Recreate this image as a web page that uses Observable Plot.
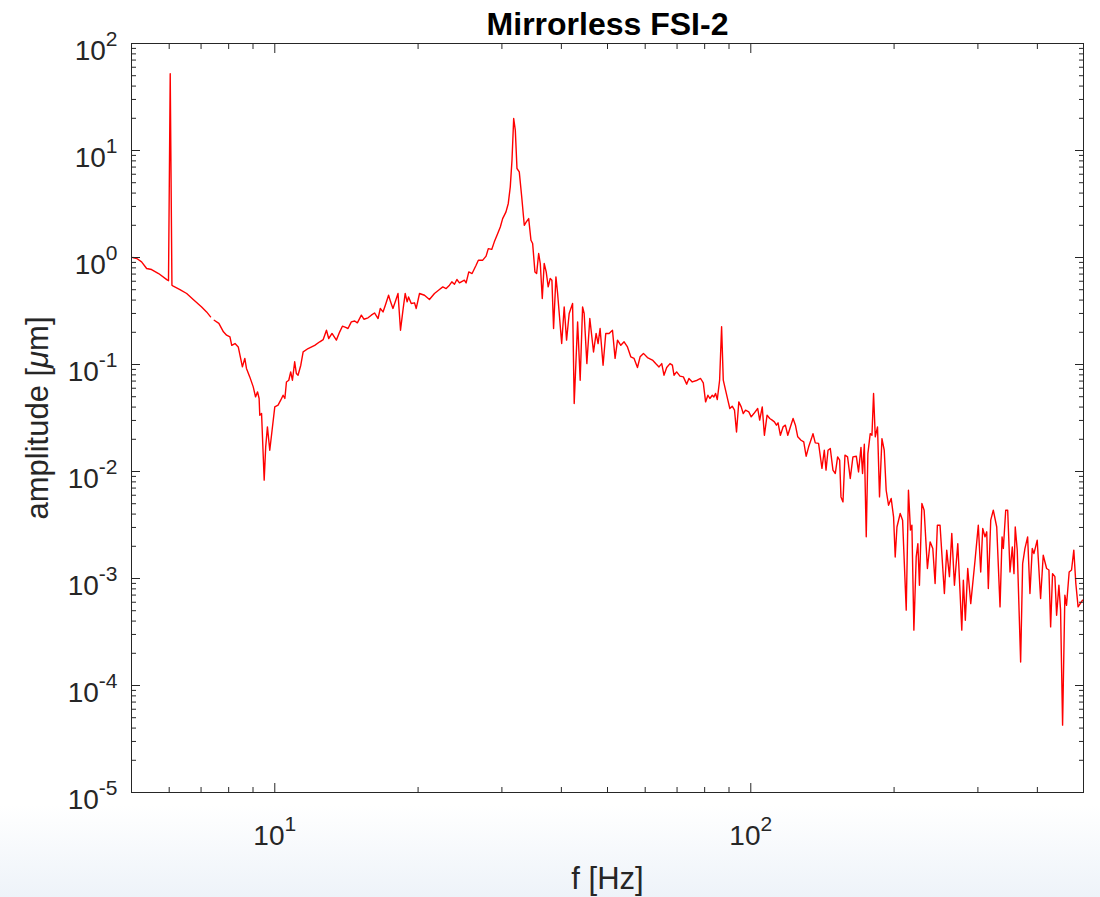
<!DOCTYPE html>
<html><head><meta charset="utf-8">
<script src="https://cdn.jsdelivr.net/npm/d3@7"></script>
<script src="https://cdn.jsdelivr.net/npm/@observablehq/plot@0.6"></script>
<style>
html,body{margin:0;padding:0;}
body{width:1100px;height:897px;overflow:hidden;background:linear-gradient(to bottom,#ffffff 0px,#ffffff 805px,#eef3f9 897px);}
#chart svg{display:block;}
</style></head><body><div id="chart"></div>
<script>
const titleText = "Mirrorless FSI-2";
const xLabel = "f [Hz]";
const yLabel = "amplitude [μm]";

// frequency (Hz)
const freq = [
5.03,5.13,5.25,5.38,5.51,5.70,5.93,5.98,6.03,6.08,6.12,6.32,6.53,6.74,7.02,7.19,7.33,7.40,
7.46,7.63,7.80,7.92,8.05,8.12,8.25,8.38,8.55,8.65,8.72,8.86,9.01,9.11,9.20,9.27,9.30,9.38,
9.50,9.57,9.65,9.76,9.87,10.0,10.16,10.29,10.41,10.50,10.58,10.70,10.80,10.89,11.01,11.10,
11.19,11.34,11.47,11.75,12.13,12.43,12.64,12.84,12.98,13.19,13.47,13.69,13.87,14.09,14.25,
14.48,14.72,14.91,15.20,15.39,15.70,15.95,16.20,16.48,16.66,16.88,17.07,17.34,17.51,17.71,
17.91,18.15,18.37,18.59,18.79,18.97,19.10,19.35,19.66,19.82,20.14,20.63,21.13,21.65,22.18,
22.54,22.91,23.28,23.55,23.85,24.13,24.43,25.02,25.23,25.56,25.97,26.48,26.77,27.35,27.79,
28.09,28.56,28.92,29.40,29.77,30.11,30.60,30.94,31.24,31.50,31.76,32.01,32.27,32.63,33.02,
33.43,33.76,34.15,34.53,34.81,35.20,35.49,35.84,36.12,36.47,36.81,37.17,37.53,37.90,38.21,
38.52,38.96,39.28,40.06,40.55,41.02,41.54,42.23,42.56,43.27,43.81,44.32,44.66,45.25,45.90,
46.73,47.32,47.77,48.24,48.94,49.58,50.38,51.22,51.87,52.48,53.32,54.18,55.07,55.96,56.86,
57.80,58.54,59.50,60.66,62.14,63.12,64.14,65.00,65.71,66.58,67.65,68.43,68.97,69.86,71.00,
72.17,73.33,74.13,75.35,77.19,78.45,79.47,80.36,81.27,82.04,83.01,83.65,84.33,85.04,86.00,
86.83,87.54,88.51,89.50,90.36,91.41,92.43,93.33,94.37,95.48,96.40,97.48,99.04,100.2,101.5,
103.4,104.4,105.7,106.8,108.2,109.6,110.9,112.1,113.2,114.1,115.4,116.9,118.2,119.6,121.1,
122.7,124.1,125.5,127.5,129.2,130.7,132.3,134.1,135.1,136.6,138.8,141.1,142.7,143.9,145.3,
146.9,148.8,150.5,152.2,153.7,154.7,156.2,157.7,159.7,161.8,163.9,166.6,168.4,170.4,171.7,
173.2,174.8,176.2,178.2,179.7,181.1,182.6,184.6,186.4,188.6,190.7,192.5,194.7,197.2,199.5,
201.1,202.8,206.0,208.4,212.1,214.4,216.5,218.0,220.1,222.6,224.4,226.1,228.8,231.3,235.0,
238.1,241.2,243.9,246.6,249.8,255.1,258.0,261.4,264.4,267.8,272.2,277.5,279.6,282.3,285.6,
289.8,295.9,300.6,304.1,307.1,310.5,313.1,315.5,319.2,323.2,328.6,333.9,337.2,339.3,343.2,
346.5,350.4,354.3,357.2,359.4,362.9,368.9,372.5,376.7,381.6,385.9,390.2,393.4,399.7,406.3,
411.5,418.3,423.0,426.5,430.5,435.4,439.0,443.9,447.5,451.9,456.9,460.6,466.5,471.9,477.1,
481.8,487.1,497.6
];

// amplitude (µm); null = gap in the trace
const amp = [
1.00,0.979,0.910,0.789,0.772,0.708,0.622,0.607,52.2,0.551,0.539,0.502,0.461,0.405,0.345,0.310,0.279,null,
0.259,0.242,0.202,0.188,0.181,0.151,0.157,0.146,0.0950,0.114,0.0918,0.0766,0.0618,0.0498,0.0555,0.0481,0.0336,0.0348,
0.00830,0.0170,0.0261,0.0158,0.0243,0.0402,0.0417,0.0464,0.0516,0.0481,0.0687,0.0713,0.0853,0.0713,0.106,0.0824,
0.0794,0.0985,0.131,0.141,0.151,0.163,0.171,0.209,0.175,0.195,0.169,0.202,0.228,0.222,0.217,
0.250,0.255,0.245,0.289,0.265,0.273,0.289,0.303,0.269,0.334,0.310,0.358,0.444,0.385,0.334,
0.385,0.461,0.209,0.322,0.461,0.385,0.428,0.372,0.377,0.334,0.461,0.444,0.405,0.461,0.502,
0.531,0.513,0.551,0.592,0.563,0.623,0.579,0.614,0.579,0.733,0.708,0.847,0.944,0.944,1.03,
1.21,1.19,1.40,1.68,1.93,2.31,2.67,3.20,4.57,8.11,19.9,15.5,6.79,6.31,3.68,
2.00,2.15,2.31,1.45,1.35,0.733,0.708,1.09,0.879,0.414,0.879,0.733,0.531,0.637,0.614,
0.217,0.659,0.461,0.157,0.345,0.169,0.300,0.372,0.0432,0.250,0.0713,0.345,0.300,0.102,0.269,
0.131,0.195,0.157,0.217,0.0985,0.195,0.195,0.209,0.114,0.169,0.151,0.163,0.146,0.118,0.114,
0.0938,0.118,0.127,0.116,0.110,0.102,0.0950,0.102,0.0794,0.0938,0.102,0.0985,0.0794,0.0853,0.0778,
0.0766,0.0655,0.0740,0.0687,0.0713,0.0740,0.0673,0.0447,0.0516,0.0481,0.0516,0.0498,0.0536,0.0471,0.0713,
0.225,0.0713,0.0575,0.0464,0.0388,0.0408,0.0374,0.0234,0.0447,0.0402,0.0348,0.0374,0.0361,0.0324,0.0348,
0.0388,0.0302,0.0402,0.0218,0.0336,0.0313,0.0302,0.0291,0.0271,0.0285,0.0218,0.0261,0.0271,0.0218,0.0261,
0.0313,0.0271,0.0211,0.0196,0.0189,0.0139,0.0170,0.0203,0.0226,0.0185,0.0183,0.0107,0.0158,0.0103,0.0158,
0.0164,0.0103,0.00958,0.0137,0.0128,0.00579,0.00520,0.0142,0.0137,0.00860,0.0137,0.0139,0.00991,0.0168,0.00958,
0.0180,0.00245,0.0147,0.0226,0.0218,0.0536,0.0211,0.0261,0.00579,0.0203,0.0158,0.00668,0.00484,0.00560,0.00377,
0.00159,0.00303,0.00405,0.00351,0.000506,0.00668,0.00283,0.00315,0.000329,0.00159,0.00212,0.000866,0.00502,0.00435,0.00124,
0.00220,0.00191,0.000898,0.00315,0.00315,0.000724,0.00184,0.00104,0.00264,0.000866,0.00212,0.000329,0.000964,0.000407,0.00124,
0.000583,0.00148,0.00315,0.00115,0.00293,0.00245,0.00273,0.000807,0.00351,0.00435,0.00303,0.000543,0.00245,0.00191,0.00435,
0.00435,0.00115,0.00197,0.00111,0.00303,0.00184,0.000166,0.00138,0.00191,0.00245,0.000724,0.00191,0.00171,0.00228,0.000650,
0.00165,0.00124,0.00120,0.000353,0.00111,0.00104,0.000454,0.000866,0.000506,0.0000426,0.000698,0.000562,0.00115,0.00120,0.00184,
0.000898,0.000543,0.000627
];

const xMajorTicks = [10, 100];
const xMinorTicks = [6, 7, 8, 9, 20, 30, 40, 50, 60, 70, 80, 90, 200, 300, 400];
const yMajorTicks = [1e-5, 1e-4, 1e-3, 1e-2, 1e-1, 1, 10, 100];
const yMinorTicks = [-5, -4, -3, -2, -1, 0, 1].flatMap(e => [2, 3, 4, 5, 6, 7, 8, 9].map(k => k * Math.pow(10, e)));

const data = freq.map((f, i) => ({f, a: amp[i]}));

const ink = "#262626";
const fontFamily = "'Liberation Sans', Arial, Helvetica, sans-serif";
const expFormat = d => "10^" + Math.round(Math.log10(d));
const blank = () => "";

const tickAxes = [];
for (const [anchor, ticks, size] of [["bottom", xMajorTicks, 9], ["top", xMajorTicks, 9], ["bottom", xMinorTicks, 5], ["top", xMinorTicks, 5]]) {
  tickAxes.push(Plot.axisX({anchor, ticks, tickSize: -size, tickFormat: blank, label: null, stroke: ink, strokeWidth: 1}));
}
for (const [anchor, ticks, size] of [["left", yMajorTicks, 9], ["right", yMajorTicks, 9], ["left", yMinorTicks, 5], ["right", yMinorTicks, 5]]) {
  tickAxes.push(Plot.axisY({anchor, ticks, tickSize: -size, tickFormat: blank, label: null, stroke: ink, strokeWidth: 1}));
}

const chart = Plot.plot({
  width: 1100,
  height: 897,
  marginLeft: 131,
  marginRight: 17,
  marginTop: 43,
  marginBottom: 105,
  style: {fontFamily, background: "transparent", color: ink, overflow: "visible"},
  x: {type: "log", domain: [5, 500]},
  y: {type: "log", domain: [1e-5, 100]},
  marks: [
    Plot.frame({fill: "white", stroke: null}),
    Plot.line(data, {x: "f", y: "a", stroke: "#ff0000", strokeWidth: 1.4, clip: true}),
    ...tickAxes,
    Plot.axisY({anchor: "left", ticks: yMajorTicks, tickSize: 0, tickPadding: 14, dy: 8, tickFormat: expFormat, fontSize: 28, fill: ink, label: null}),
    Plot.axisX({anchor: "bottom", ticks: xMajorTicks, tickSize: 0, tickPadding: 33, tickFormat: expFormat, fontSize: 28, fill: ink, label: null}),
    Plot.frame({stroke: ink, strokeWidth: 1}),
    Plot.text([titleText], {text: d => d, frameAnchor: "top", textAnchor: "middle", lineAnchor: "bottom", dy: -9, fontSize: 32, fontWeight: "bold", fill: "#000"}),
    Plot.text([xLabel], {text: d => d, frameAnchor: "bottom", textAnchor: "middle", lineAnchor: "bottom", dy: 96, fontSize: 31, fill: ink}),
    Plot.text([yLabel], {text: d => d, frameAnchor: "left", textAnchor: "middle", lineAnchor: "bottom", rotate: -90, dx: -84, fontSize: 31, fill: ink})
  ]
});

// superscript exponents in tick labels, italic mu in the y label
const NS = "http://www.w3.org/2000/svg";
chart.querySelectorAll("text").forEach(t => {
  const s = t.textContent;
  const m = /^10\^(-?\d+)$/.exec(s);
  if (m) {
    t.textContent = "";
    const base = document.createElementNS(NS, "tspan");
    base.textContent = "10";
    const sup = document.createElementNS(NS, "tspan");
    sup.textContent = m[1];
    sup.setAttribute("font-size", "21");
    sup.setAttribute("dy", "-14");
    t.append(base, sup);
  } else if (s === yLabel) {
    t.textContent = "";
    const [pre, post] = s.split("μ");
    const a = document.createElementNS(NS, "tspan"); a.textContent = pre;
    const b = document.createElementNS(NS, "tspan"); b.textContent = "μ"; b.setAttribute("font-style", "italic");
    const c = document.createElementNS(NS, "tspan"); c.textContent = post;
    t.append(a, b, c);
  }
});

document.getElementById("chart").append(chart);
</script>
</body></html>
